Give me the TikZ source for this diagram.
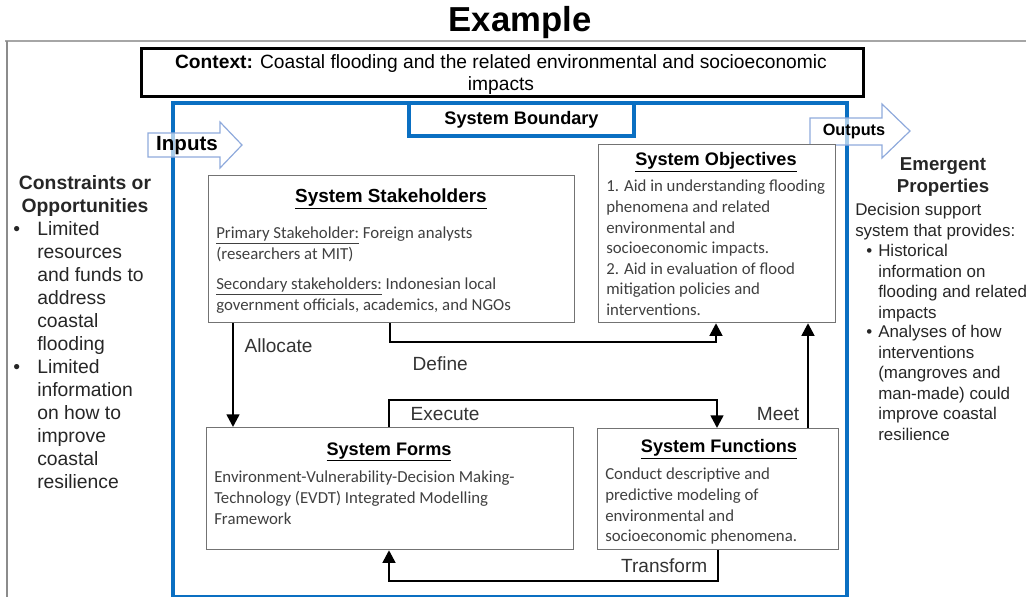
\documentclass[tikz,border=0pt]{standalone}
\usepackage{fontspec}
\setmainfont{Liberation Sans}
\newfontfamily\calib{Carlito}
\usetikzlibrary{calc,arrows.meta}
\definecolor{bnd}{HTML}{0A6FC2}
\definecolor{arw}{HTML}{8FAADC}
\definecolor{txtg}{HTML}{404040}
\tikzset{
  box/.style={draw=black!55, line width=0.9pt, fill=white, anchor=north west, inner sep=0pt},
  boxtitle/.style={font=\bfseries\fontsize{13.6}{16}\selectfont, anchor=center},
  body/.style={font=\calib\fontsize{12.6}{15.4}\selectfont, text=txtg, anchor=north west, align=left, inner sep=0pt},
  conn/.style={line width=1.9pt, -{Triangle[length=9.5pt,width=9.5pt]}},
  lbl/.style={font=\fontsize{14.3}{17}\selectfont, text=black!80},
  side/.style={font=\fontsize{14.5}{17.25}\selectfont, text=black!85, align=left, inner sep=0pt},
  rside/.style={font=\fontsize{12.7}{15.4}\selectfont, text=black!85, align=left, inner sep=0pt, anchor=north west},
  barrow/.style={draw=arw, line width=0.9pt, fill=white, fill opacity=0.65},
}
\begin{document}
\begin{tikzpicture}[x=0.75pt,y=-0.75pt]
\useasboundingbox (0,0) rectangle (1026,597);
% title
\node[font=\bfseries\fontsize{26}{30}\selectfont] (title) at (520,23) {Example};
% outer gray frame
\draw[black!35, line width=1.1pt] (5,41) -- (1026,41);
\draw[black!45, line width=1.1pt] (7,41) -- (7,597);
% context box
\node[draw=black, line width=2.2pt, minimum width=722*0.75pt, minimum height=48*0.75pt, anchor=north west, inner sep=0pt] (ctx) at (140,47) {};
\node[font=\fontsize{14.4}{16.5}\selectfont, align=center] (ctxt) at (501,75) {\textbf{Context:} Coastal flooding and the related environmental and socioeconomic\\impacts};
% system boundary
\node[draw=bnd, line width=3pt, minimum width=674*0.75pt, minimum height=494*0.75pt, anchor=north west, inner sep=0pt] (sysb) at (171,101) {};
\node[draw=bnd, line width=3pt, fill=white, minimum width=225*0.75pt, minimum height=33*0.75pt, anchor=north west, inner sep=0pt, font=\bfseries\fontsize{13.6}{16}\selectfont] (sbl) at (407,101) {System Boundary};
% inputs arrow
\path[barrow] (148,133) -- (220,133) -- (220,122) -- (242,145) -- (220,168) -- (220,157) -- (148,157) -- cycle;
\node[font=\bfseries\fontsize{15.4}{17}\selectfont] (inp) at (187,146) {Inputs};
% outputs arrow
\path[barrow] (810,118) -- (882,118) -- (882,104) -- (910,131) -- (882,158) -- (882,145) -- (810,145) -- cycle;
\node[font=\bfseries\fontsize{12.2}{14}\selectfont] (outp) at (854,132) {Outputs};
% left side text
\node[side, font=\bfseries\fontsize{14.5}{17.25}\selectfont, align=center, anchor=north] (conh) at (85,175) {Constraints or\\Opportunities};
\node[side, anchor=north west] (cb1) at (13,219) {\strut•};
\node[side, anchor=north west] (ct1) at (37,219) {\strut Limited\\resources\\and funds to\\address\\coastal\\flooding};
\node[side, anchor=north west] (cb2) at (13,357) {\strut•};
\node[side, anchor=north west] (ct2) at (37,357) {\strut Limited\\information\\on how to\\improve\\coastal\\resilience};
% right side text
\node[side, font=\bfseries\fontsize{14}{17}\selectfont, align=center, anchor=north] (emh) at (943,157) {Emergent\\Properties};
\node[rside] (emt) at (855,201) {\strut Decision support\\system that provides:};
\node[rside] (eb1) at (866,242) {\strut•};
\node[rside] (et1) at (878,242) {\strut Historical\\information on\\flooding and related\\impacts};
\node[rside] (eb2) at (866,323) {\strut•};
\node[rside] (et2) at (878,323) {\strut Analyses of how\\interventions\\(mangroves and\\man-made) could\\improve coastal\\resilience};
% stakeholders
\node[box, minimum width=366*0.75pt, minimum height=147*0.75pt] (stk) at (208,175) {};
\node[boxtitle, font=\bfseries\fontsize{14.2}{17}\selectfont] (stkt) at (391,199) {\underline{System Stakeholders}};
\node[body] (stkb1) at (216,227) {\underline{Primary Stakeholder:} Foreign analysts\\(researchers at MIT)};
\node[body] (stkb2) at (216,278) {\underline{Secondary stakeholders:} Indonesian local\\government officials, academics, and NGOs};
% objectives
\node[box, minimum width=237*0.75pt, minimum height=178*0.75pt] (obj) at (598,144) {};
\node[boxtitle] (objt) at (716,162) {\underline{System Objectives}};
\node[body] (objb) at (606,180) {1. Aid in understanding flooding\\phenomena and related\\environmental and\\socioeconomic impacts.\\2. Aid in evaluation of flood\\mitigation policies and\\interventions.};
% forms
\node[box, minimum width=367*0.75pt, minimum height=122*0.75pt] (frm) at (206,427) {};
\node[boxtitle] (frmt) at (389,452) {\underline{System Forms}};
\node[body] (frmb) at (214,471) {Environment-Vulnerability-Decision Making-\\Technology (EVDT) Integrated Modelling\\Framework};
% functions
\node[box, minimum width=241*0.75pt, minimum height=121*0.75pt] (fun) at (597,428) {};
\node[boxtitle] (funt) at (719,449) {\underline{System Functions}};
\node[body] (funb) at (605,468) {Conduct descriptive and\\predictive modeling of\\environmental and\\socioeconomic phenomena.};
% connector anchor points
\coordinate (aS) at ($(stk.south west)+(25,0)$);
\coordinate (dS) at ($(stk.south west)+(182,0)$);
\coordinate (dM) at ($(obj.south west)+(118,19)$);
\coordinate (dE) at ($(obj.south west)+(118,0)$);
\coordinate (eS) at ($(frm.north west)+(183,0)$);
\coordinate (eM) at ($(fun.north west)+(120,-28)$);
\coordinate (eE) at ($(fun.north west)+(120,0)$);
\coordinate (mS) at ($(fun.north west)+(211,0)$);
\coordinate (tS) at ($(fun.south west)+(121,0)$);
\coordinate (tM) at ($(frm.south west)+(183,31)$);
\coordinate (tE) at ($(frm.south west)+(183,0)$);
% connectors
\draw[conn] (aS) -- (aS |- frm.north);
\node[lbl, anchor=west] (lalloc) at (240,346) {Allocate};
\draw[conn] (dS) |- (dM) -- (dE);
\node[lbl, anchor=west] (ldef) at (408,364) {Define};
\draw[conn] (eS) |- (eM) -- (eE);
\node[lbl, anchor=west] (lexe) at (406,414) {Execute};
\draw[conn] (mS) -- (mS |- obj.south);
\node[lbl, anchor=east] (lmeet) at (804,414) {Meet};
\draw[conn] (tS) |- (tM) -- (tE);
\node[lbl, anchor=east] (ltr) at (712,566) {Transform};
\end{tikzpicture}
\end{document}
